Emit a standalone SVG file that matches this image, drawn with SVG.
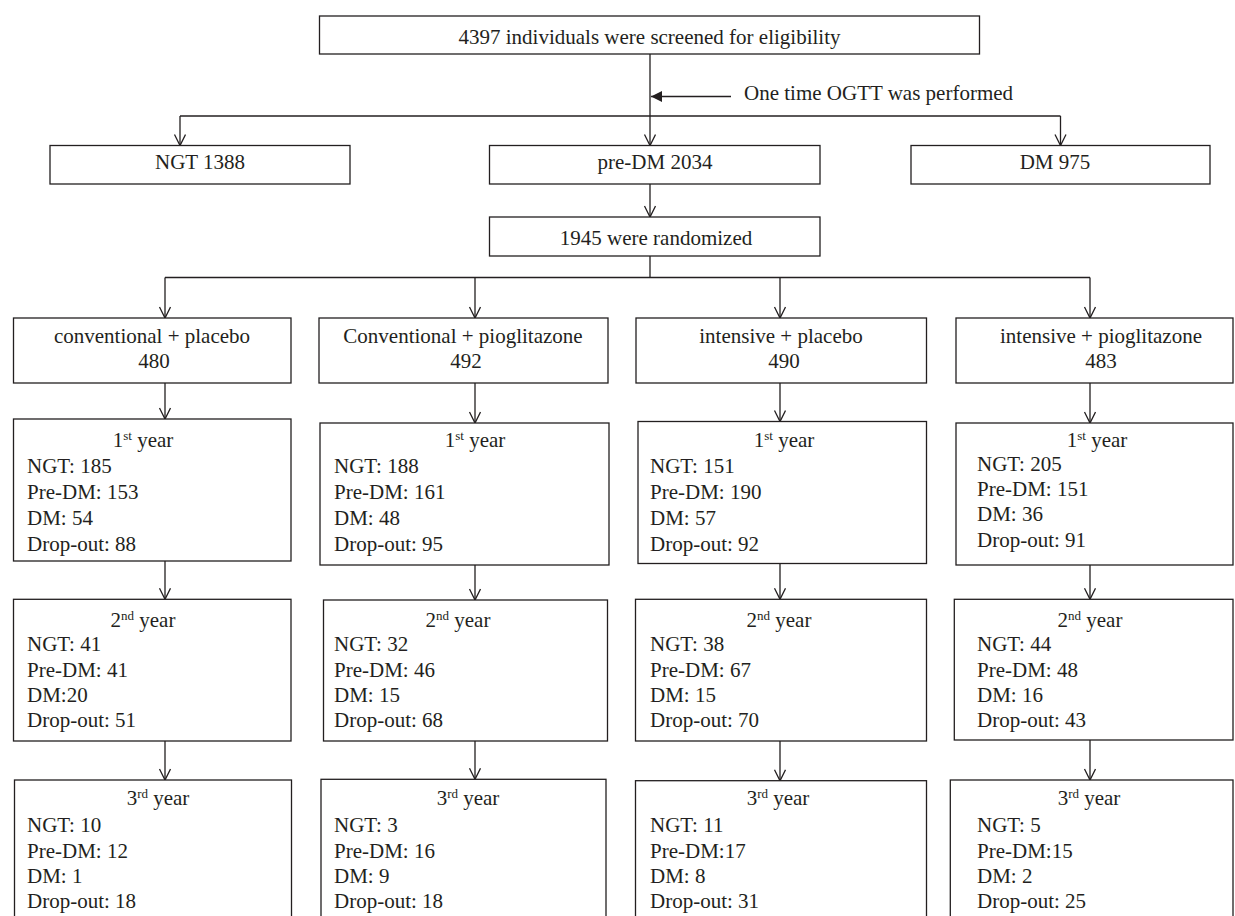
<svg xmlns="http://www.w3.org/2000/svg" width="1235" height="916" viewBox="0 0 1235 916">
<defs>
<style>
.box{fill:#fff;stroke:#231f20;stroke-width:1.3}
.ln{fill:none;stroke:#231f20;stroke-width:1.3}
.t{font-family:"Liberation Serif","Times New Roman",serif;font-size:21px;fill:#231f20}
.c{text-anchor:middle}
.sup{font-size:13px}
</style>
<marker id="open" viewBox="0 0 14 14" refX="12" refY="6" markerWidth="14" markerHeight="14" markerUnits="userSpaceOnUse" orient="auto">
<path d="M1,0.5 L12,6 L1,11.5" fill="none" stroke="#231f20" stroke-width="1.3"/>
</marker>
<marker id="solid" viewBox="0 0 12 12" refX="11" refY="5.5" markerWidth="12" markerHeight="12" markerUnits="userSpaceOnUse" orient="auto">
<path d="M0,0 L11,5.5 L0,11 Z" fill="#231f20"/>
</marker>
</defs>
<rect width="1235" height="916" fill="#fff"/>

<g id="connectors">
<line class="ln" x1="650" y1="54" x2="650" y2="145.5" marker-end="url(#open)"/>
<line class="ln" x1="731" y1="96.5" x2="651" y2="96.5" marker-end="url(#solid)"/>
<line class="ln" x1="180" y1="116" x2="1060.5" y2="116"/>
<line class="ln" x1="180" y1="116" x2="180" y2="145.5" marker-end="url(#open)"/>
<line class="ln" x1="1060.5" y1="116" x2="1060.5" y2="145.5" marker-end="url(#open)"/>
<line class="ln" x1="650" y1="184" x2="650" y2="217" marker-end="url(#open)"/>
<line class="ln" x1="650" y1="256" x2="650" y2="277.5"/>
<line class="ln" x1="165" y1="277.5" x2="1090" y2="277.5"/>
<line class="ln" x1="165" y1="277.5" x2="165" y2="318" marker-end="url(#open)"/>
<line class="ln" x1="475" y1="277.5" x2="475" y2="318" marker-end="url(#open)"/>
<line class="ln" x1="780" y1="277.5" x2="780" y2="318" marker-end="url(#open)"/>
<line class="ln" x1="1090" y1="277.5" x2="1090" y2="318" marker-end="url(#open)"/>
<line class="ln" x1="165" y1="383" x2="165" y2="419" marker-end="url(#open)"/>
<line class="ln" x1="475" y1="383" x2="475" y2="423" marker-end="url(#open)"/>
<line class="ln" x1="780" y1="383" x2="780" y2="421.5" marker-end="url(#open)"/>
<line class="ln" x1="1090" y1="383" x2="1090" y2="423" marker-end="url(#open)"/>
<line class="ln" x1="165" y1="561" x2="165" y2="599.3" marker-end="url(#open)"/>
<line class="ln" x1="475" y1="565" x2="475" y2="600" marker-end="url(#open)"/>
<line class="ln" x1="780" y1="563.3" x2="780" y2="599.3" marker-end="url(#open)"/>
<line class="ln" x1="1090" y1="565" x2="1090" y2="599.3" marker-end="url(#open)"/>
<line class="ln" x1="165" y1="741" x2="165" y2="780" marker-end="url(#open)"/>
<line class="ln" x1="475" y1="741" x2="475" y2="779.3" marker-end="url(#open)"/>
<line class="ln" x1="780" y1="741" x2="780" y2="780.7" marker-end="url(#open)"/>
<line class="ln" x1="1090" y1="740" x2="1090" y2="780" marker-end="url(#open)"/>
<text class="t" x="744" y="100">One time OGTT was performed</text>
</g>

<g id="screened">
<rect class="box" x="319.5" y="16" width="660" height="38"/>
<text class="t c" x="649.5" y="44">4397 individuals were screened for eligibility</text>
</g>
<g id="ngt">
<rect class="box" x="50" y="145.5" width="300" height="38.5"/>
<text class="t c" x="200" y="169">NGT 1388</text>
</g>
<g id="predm">
<rect class="box" x="489.5" y="145.5" width="330.5" height="38.5"/>
<text class="t c" x="655" y="169">pre-DM 2034</text>
</g>
<g id="dm">
<rect class="box" x="911" y="145.5" width="299" height="38.5"/>
<text class="t c" x="1055" y="169">DM 975</text>
</g>
<g id="randomized">
<rect class="box" x="489.5" y="217" width="330.5" height="39"/>
<text class="t c" x="656" y="245">1945 were randomized</text>
</g>

<g id="arm1">
<rect class="box" x="13.5" y="318" width="277.5" height="65"/>
<text class="t c" x="152" y="343">conventional + placebo</text>
<text class="t c" x="154" y="368">480</text>
</g>
<g id="arm2">
<rect class="box" x="319" y="318" width="289" height="65"/>
<text class="t c" x="463" y="343">Conventional + pioglitazone</text>
<text class="t c" x="466" y="368">492</text>
</g>
<g id="arm3">
<rect class="box" x="636" y="318" width="290.5" height="65"/>
<text class="t c" x="781" y="343">intensive + placebo</text>
<text class="t c" x="784" y="368">490</text>
</g>
<g id="arm4">
<rect class="box" x="956" y="318" width="277" height="65"/>
<text class="t c" x="1101" y="343">intensive + pioglitazone</text>
<text class="t c" x="1101" y="368">483</text>
</g>

<g id="y1-arm1">
<rect class="box" x="13.5" y="419" width="277.5" height="142"/>
<text class="t c" x="143" y="447">1<tspan class="sup" dy="-7">st</tspan><tspan dy="7"> year</tspan></text>
<text class="t" x="27" y="473">NGT: 185</text>
<text class="t" x="27" y="499">Pre-DM: 153</text>
<text class="t" x="27" y="525">DM: 54</text>
<text class="t" x="27" y="551">Drop-out: 88</text>
</g>
<g id="y1-arm2">
<rect class="box" x="320" y="423" width="289" height="142"/>
<text class="t c" x="475" y="447">1<tspan class="sup" dy="-7">st</tspan><tspan dy="7"> year</tspan></text>
<text class="t" x="334" y="473">NGT: 188</text>
<text class="t" x="334" y="499">Pre-DM: 161</text>
<text class="t" x="334" y="525">DM: 48</text>
<text class="t" x="334" y="551">Drop-out: 95</text>
</g>
<g id="y1-arm3">
<rect class="box" x="638" y="421.5" width="288.5" height="142"/>
<text class="t c" x="784" y="447">1<tspan class="sup" dy="-7">st</tspan><tspan dy="7"> year</tspan></text>
<text class="t" x="650" y="473">NGT: 151</text>
<text class="t" x="650" y="499">Pre-DM: 190</text>
<text class="t" x="650" y="525">DM: 57</text>
<text class="t" x="650" y="551">Drop-out: 92</text>
</g>
<g id="y1-arm4">
<rect class="box" x="956" y="423" width="277" height="142"/>
<text class="t c" x="1097" y="447">1<tspan class="sup" dy="-7">st</tspan><tspan dy="7"> year</tspan></text>
<text class="t" x="977" y="471">NGT: 205</text>
<text class="t" x="977" y="496">Pre-DM: 151</text>
<text class="t" x="977" y="521">DM: 36</text>
<text class="t" x="977" y="547">Drop-out: 91</text>
</g>

<g id="y2-arm1">
<rect class="box" x="13.5" y="599.3" width="277.5" height="141.7"/>
<text class="t c" x="143" y="627">2<tspan class="sup" dy="-7">nd</tspan><tspan dy="7"> year</tspan></text>
<text class="t" x="27" y="651">NGT: 41</text>
<text class="t" x="27" y="677">Pre-DM: 41</text>
<text class="t" x="27" y="702">DM:20</text>
<text class="t" x="27" y="727">Drop-out: 51</text>
</g>
<g id="y2-arm2">
<rect class="box" x="323.5" y="600" width="284" height="141"/>
<text class="t c" x="458" y="627">2<tspan class="sup" dy="-7">nd</tspan><tspan dy="7"> year</tspan></text>
<text class="t" x="334" y="651">NGT: 32</text>
<text class="t" x="334" y="677">Pre-DM: 46</text>
<text class="t" x="334" y="702">DM: 15</text>
<text class="t" x="334" y="727">Drop-out: 68</text>
</g>
<g id="y2-arm3">
<rect class="box" x="635.5" y="599.3" width="291" height="141.7"/>
<text class="t c" x="779" y="627">2<tspan class="sup" dy="-7">nd</tspan><tspan dy="7"> year</tspan></text>
<text class="t" x="650" y="651">NGT: 38</text>
<text class="t" x="650" y="677">Pre-DM: 67</text>
<text class="t" x="650" y="702">DM: 15</text>
<text class="t" x="650" y="727">Drop-out: 70</text>
</g>
<g id="y2-arm4">
<rect class="box" x="954.3" y="599.3" width="278.7" height="140.7"/>
<text class="t c" x="1090" y="627">2<tspan class="sup" dy="-7">nd</tspan><tspan dy="7"> year</tspan></text>
<text class="t" x="977" y="651">NGT: 44</text>
<text class="t" x="977" y="677">Pre-DM: 48</text>
<text class="t" x="977" y="702">DM: 16</text>
<text class="t" x="977" y="727">Drop-out: 43</text>
</g>

<g id="y3-arm1">
<rect class="box" x="14.5" y="780" width="277" height="160"/>
<text class="t c" x="158" y="805">3<tspan class="sup" dy="-7">rd</tspan><tspan dy="7"> year</tspan></text>
<text class="t" x="27" y="832">NGT: 10</text>
<text class="t" x="27" y="858">Pre-DM: 12</text>
<text class="t" x="27" y="883">DM: 1</text>
<text class="t" x="27" y="908">Drop-out: 18</text>
</g>
<g id="y3-arm2">
<rect class="box" x="321" y="779.3" width="285" height="160"/>
<text class="t c" x="468" y="805">3<tspan class="sup" dy="-7">rd</tspan><tspan dy="7"> year</tspan></text>
<text class="t" x="334" y="832">NGT: 3</text>
<text class="t" x="334" y="858">Pre-DM: 16</text>
<text class="t" x="334" y="883">DM: 9</text>
<text class="t" x="334" y="908">Drop-out: 18</text>
</g>
<g id="y3-arm3">
<rect class="box" x="635.5" y="780.7" width="291" height="160"/>
<text class="t c" x="778" y="805">3<tspan class="sup" dy="-7">rd</tspan><tspan dy="7"> year</tspan></text>
<text class="t" x="650" y="832">NGT: 11</text>
<text class="t" x="650" y="858">Pre-DM:17</text>
<text class="t" x="650" y="883">DM: 8</text>
<text class="t" x="650" y="908">Drop-out: 31</text>
</g>
<g id="y3-arm4">
<rect class="box" x="950.3" y="780" width="282.7" height="160"/>
<text class="t c" x="1089" y="805">3<tspan class="sup" dy="-7">rd</tspan><tspan dy="7"> year</tspan></text>
<text class="t" x="977" y="832">NGT: 5</text>
<text class="t" x="977" y="858">Pre-DM:15</text>
<text class="t" x="977" y="883">DM: 2</text>
<text class="t" x="977" y="908">Drop-out: 25</text>
</g>
</svg>
